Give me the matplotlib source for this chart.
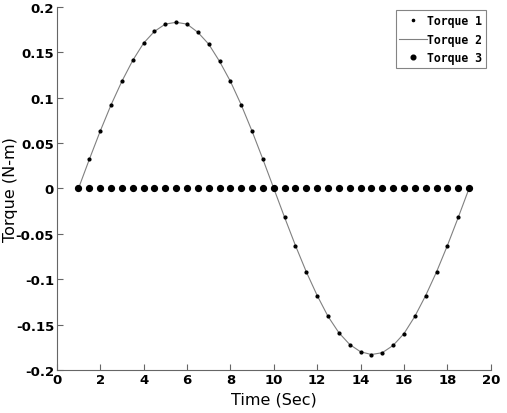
import matplotlib
matplotlib.use('Agg')
import matplotlib.pyplot as plt
import numpy as np

plt.rcParams['figure.figsize'] = (5.07, 4.14)
plt.rcParams['figure.dpi'] = 100

# time samples (sec)
time = [1.0, 1.5, 2.0, 2.5, 3.0, 3.5, 4.0, 4.5, 5.0, 5.5, 6.0, 6.5, 7.0, 7.5,
        8.0, 8.5, 9.0, 9.5, 10.0, 10.5, 11.0, 11.5, 12.0, 12.5, 13.0, 13.5,
        14.0, 14.5, 15.0, 15.5, 16.0, 16.5, 17.0, 17.5, 18.0, 18.5, 19.0]

torque1 = [0.0, 0.032, 0.063, 0.092, 0.118, 0.141, 0.160, 0.173, 0.181, 0.183,
           0.181, 0.172, 0.159, 0.140, 0.118, 0.092, 0.063, 0.032, 0.0,
           -0.032, -0.063, -0.092, -0.118, -0.141, -0.159, -0.172, -0.180,
           -0.183, -0.181, -0.173, -0.160, -0.141, -0.118, -0.092, -0.063,
           -0.032, 0.0]

torque2 = torque1

torque3 = [0.0] * len(time)

fig = plt.figure()
ax = fig.add_axes([0.112, 0.104, 0.856, 0.877])

ax.plot(time, torque1, linestyle='none', marker='o', markersize=2.0,
        color='black', label='Torque 1', zorder=3)
ax.plot(time, torque2, color='#808080', linewidth=0.8, label='Torque 2', zorder=2)
ax.plot(time, torque3, linestyle='none', marker='o', markersize=4.2,
        color='black', label='Torque 3', zorder=3)

ax.set_xlim(0, 20)
ax.set_ylim(-0.2, 0.2)
ax.set_xticks(np.arange(0, 21, 2))
ax.set_yticks([-0.2, -0.15, -0.1, -0.05, 0, 0.05, 0.1, 0.15, 0.2])
ax.set_yticklabels(['-0.2', '-0.15', '-0.1', '-0.05', '0', '0.05', '0.1', '0.15', '0.2'])

for s in ['top', 'right']:
    ax.spines[s].set_visible(False)
for s in ['left', 'bottom']:
    ax.spines[s].set_color('#666666')
ax.tick_params(direction='in', length=4, color='#666666', pad=2)
for lab in ax.get_xticklabels() + ax.get_yticklabels():
    lab.set_fontweight('bold')
    lab.set_fontsize(9.5)
    lab.set_fontfamily('Liberation Sans Narrow')

ax.set_xlabel('Time (Sec)', fontsize=11.5, family='Liberation Sans Narrow', labelpad=4)
ax.set_ylabel('Torque (N-m)', fontsize=11.5, family='DejaVu Sans')
ax.yaxis.set_label_coords(-0.09, 0.5)

leg = ax.legend(loc='upper right', prop={'family': 'DejaVu Sans Mono', 'weight': 'bold', 'size': 8.3},
                fancybox=False, edgecolor='#666666', handlelength=2.4, handletextpad=0.0,
                borderpad=0.3, labelspacing=0.5, borderaxespad=0,
                bbox_to_anchor=(0.988, 0.99), markerscale=0.8)
leg.get_frame().set_linewidth(0.8)

plt.savefig('out.png')
